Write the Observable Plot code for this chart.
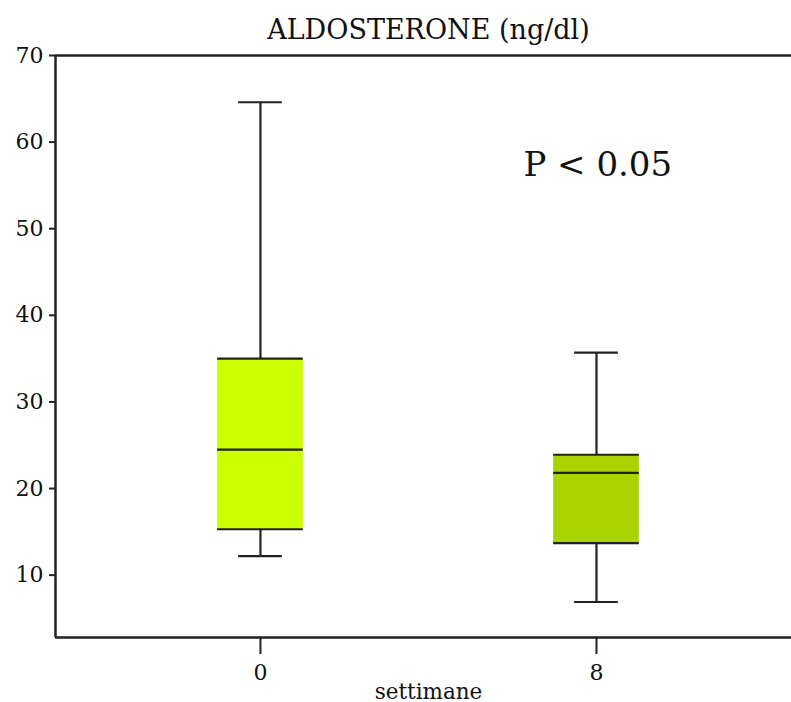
<!DOCTYPE html>
<html><head><meta charset="utf-8">
<script src="https://cdn.jsdelivr.net/npm/d3@7"></script>
<script src="https://cdn.jsdelivr.net/npm/@observablehq/plot@0.6"></script>
<style>body{margin:0;background:#fff}</style>
</head><body><div id="chart"></div>
<script>
// Data
const weeks = [0, 8];
const whiskerLow = [12.2, 6.9];
const q1 = [15.3, 13.7];
const median = [24.5, 21.8];
const q3 = [35.0, 23.9];
const whiskerHigh = [64.6, 35.7];
const boxColors = ["#ccff00", "#aad400"];
const yTicks = [10, 20, 30, 40, 50, 60, 70];
const xTicks = [0, 8];
const title = "ALDOSTERONE (ng/dl)";
const xLabel = "settimane";
const annotation = [{text: "P < 0.05", x: 6.26, y: 56.1}];

const boxes = weeks.map((w, i) => ({
  w, lo: whiskerLow[i], q1: q1[i], med: median[i], q3: q3[i], hi: whiskerHigh[i], color: boxColors[i]
}));

const half = 1.02, capHalf = 0.52;
const xDomain = [-4.88, 12.643];
const yDomain = [2.8, 70];
const ink = "#222";
const serif = "DejaVu Serif";

const chart = Plot.plot({
  width: 791,
  height: 702,
  marginLeft: 55,
  marginRight: 0,
  marginTop: 55,
  marginBottom: 65,
  style: {color: ink, background: "#fff"},
  x: {domain: xDomain, axis: null},
  y: {domain: yDomain, axis: null},
  marks: [
    Plot.rect(boxes, {x1: d => d.w - half, x2: d => d.w + half, y1: "q1", y2: "q3", fill: "color"}),
    Plot.ruleX(boxes, {x: "w", y1: "q3", y2: "hi", stroke: ink, strokeWidth: 2.2}),
    Plot.ruleX(boxes, {x: "w", y1: "lo", y2: "q1", stroke: ink, strokeWidth: 2.2}),
    Plot.ruleY(boxes, {y: "hi", x1: d => d.w - capHalf, x2: d => d.w + capHalf, stroke: ink, strokeWidth: 2.2}),
    Plot.ruleY(boxes, {y: "lo", x1: d => d.w - capHalf, x2: d => d.w + capHalf, stroke: ink, strokeWidth: 2.2}),
    Plot.ruleY(boxes, {y: "q1", x1: d => d.w - half, x2: d => d.w + half, stroke: ink, strokeWidth: 2.2}),
    Plot.ruleY(boxes, {y: "q3", x1: d => d.w - half, x2: d => d.w + half, stroke: ink, strokeWidth: 2.2}),
    Plot.ruleY(boxes, {y: "med", x1: d => d.w - half, x2: d => d.w + half, stroke: ink, strokeWidth: 2.2}),
    // frame: left, top, bottom (right edge lies outside the picture)
    Plot.ruleX([xDomain[0]], {stroke: ink, strokeWidth: 2.5}),
    Plot.ruleY(yDomain, {stroke: ink, strokeWidth: 2.5}),
    Plot.axisY(yTicks, {tickSize: 6, tickPadding: 6, fontSize: 22, fontFamily: serif, stroke: ink, strokeWidth: 2, fill: "#111", label: null}),
    Plot.axisX(xTicks, {tickSize: 17, tickPadding: 10, fontSize: 22, fontFamily: serif, stroke: ink, strokeWidth: 2, fill: "#111", label: null}),
    Plot.text([title], {x: () => 4, y: () => yDomain[1], text: d => d, lineAnchor: "bottom", dy: -17, fontSize: 27, fontFamily: serif, fill: "#111"}),
    Plot.text([xLabel], {x: () => 4, y: () => yDomain[0], text: d => d, lineAnchor: "bottom", dy: 61, fontSize: 21.5, fontFamily: serif, fill: "#111"}),
    Plot.text(annotation, {x: "x", y: "y", text: "text", lineAnchor: "bottom", textAnchor: "start", fontSize: 34, fontFamily: serif, fill: "#111"})
  ]
});
document.getElementById("chart").appendChild(chart);
</script>
</body></html>
